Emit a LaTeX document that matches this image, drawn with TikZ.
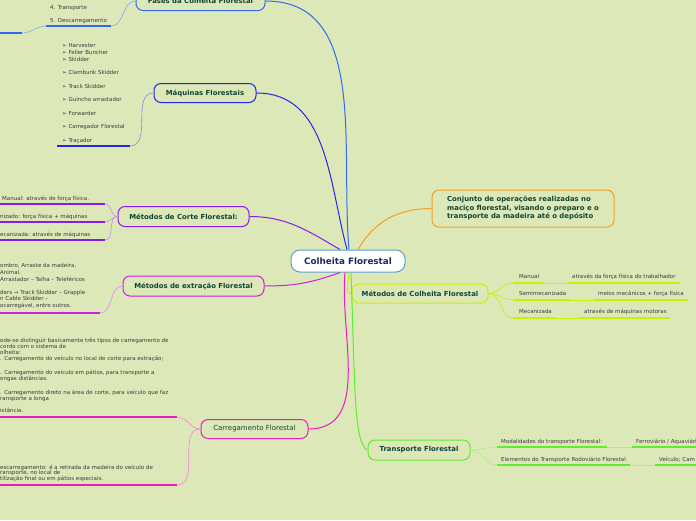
\documentclass[tikz,border=0pt]{standalone}
\usepackage{fontspec}
\setmainfont{DejaVu Sans}
\definecolor{bg}{HTML}{DDE8B9}
\definecolor{txtgreen}{HTML}{0F4535}
\definecolor{txtgray}{HTML}{3A3A3A}
\definecolor{cfases}{HTML}{2F6BF0}
\definecolor{cmaq}{HTML}{2626E0}
\definecolor{ccorte}{HTML}{8A1CE8}
\definecolor{cextr}{HTML}{D21EE0}
\definecolor{ccarr}{HTML}{E81CC0}
\definecolor{cconj}{HTML}{F5A020}
\definecolor{cmet}{HTML}{CCEE00}
\definecolor{ctransp}{HTML}{5EEE30}
\definecolor{croot}{HTML}{5AA0D0}
\definecolor{txtroot}{HTML}{1B2A5A}
\tikzset{
  topic/.style={draw, line width=1pt, rounded corners=7pt, fill=bg, text=txtgreen,
    font=\bfseries\fontsize{6.9}{8}\selectfont, inner sep=0pt},
  leaf/.style={anchor=base west, inner sep=0pt, text=txtgray, font=\fontsize{5.5}{6}\selectfont},
  uline/.style={line width=1.4pt},
  twig/.style={line width=0.6pt},
  branch/.style={line width=1pt},
}
\begin{document}
\begin{tikzpicture}[x=1pt,y=-1pt]
    \useasboundingbox[fill=bg] (0,0) rectangle (696,520);
    \clip (0,0) rectangle (696,520);

    % central topic
    \node[draw=croot, fill=white, line width=1pt, rounded corners=9pt, text=txtroot,
      font=\bfseries\fontsize{8.8}{10}\selectfont, minimum width=114pt, minimum height=22pt]
      (root) at (348,261) {Colheita Florestal};

    % main topics
    \node[topic, draw=cfases, minimum width=129pt, minimum height=19pt] (fases) at (200.5,1) {Fases da Colheita Florestal};
    \node[topic, draw=cmaq, minimum width=102pt, minimum height=19pt] (maq) at (205,93) {Máquinas Florestais};
    \node[topic, draw=ccorte, minimum width=131pt, minimum height=20pt] (corte) at (183.5,216.5) {Métodos de Corte Florestal:};
    \node[topic, draw=cextr, minimum width=141pt, minimum height=20pt] (extr) at (193.5,286) {Métodos de extração Florestal};
    \node[topic, draw=ccarr, font=\fontsize{7}{8}\selectfont, minimum width=107pt, minimum height=19pt] (carr) at (254.5,429) {Carregamento Florestal};
    \node[topic, draw=cconj, align=left, inner xsep=4pt, minimum width=182pt, minimum height=37pt,
      font=\bfseries\fontsize{6.9}{8.5}\selectfont] (conj) at (523,208.5)
      {Conjunto de operações realizadas no\\maciço florestal, visando o preparo e o\\transporte da madeira até o depósito};
    \node[topic, draw=cmet, minimum width=136pt, minimum height=19pt] (metc) at (420,293.5) {Métodos de Colheita Florestal};
    \node[topic, draw=ctransp, minimum width=102pt, minimum height=20pt] (transp) at (419,450) {Transporte Florestal};

    % branches to the centre
    \draw[branch, cfases] (fases.east) to[out=0, in=95] ([xshift=1pt]root.north);
    \draw[branch, cmaq] (maq.east) to[out=0, in=105] ([xshift=-1pt]root.north);
    \draw[branch, ccorte] (corte.east) to[out=0, in=150] ([xshift=-8pt]root.north);
    \draw[branch, cconj] (conj.west) to[out=180, in=60] ([xshift=10pt]root.north);
    \draw[branch, cextr] (extr.east) to[out=0, in=200] ([xshift=-8pt]root.south);
    \draw[branch, ccarr] (carr.east) to[out=0, in=265] ([xshift=-3pt]root.south);
    \draw[branch, cmet] ([xshift=1pt]root.south) to[out=275, in=180] (metc.west);
    \draw[branch, ctransp] ([xshift=3pt]root.south) .. controls +(4,110) and +(-14,-6) .. (transp.west);

    % Fases da Colheita
    \node[leaf] (f4) at (50,9) {4. Transporte};
    \node[leaf] (f5) at (50,22) {5. Descarregamento};
    \coordinate (f5a) at (46,26);
    \coordinate (f5b) at (111,26);
    \coordinate (f6) at (22,33);
    \draw[uline, cfases] (f5a) -- (f5b);
    \draw[uline, cfases] (0,33) -- (f6);
    \draw[twig, cfases!60] (f6) to[out=0, in=180] (f5a);
    \draw[twig, cfases!60] (f5b) to[out=0, in=180] (fases.west);

    % Maquinas Florestais
    \foreach \y/\t in {47/Harvester, 54/Feller Buncher, 61/Skidder, 74/Clambunk Skidder,
      88/Track Skidder, 101/Guincho arrastador, 115/Forwarder, 128/Carregador Florestal, 142/Traçador}
      \node[leaf] at (62,\y) {➢ \t};
    \coordinate (m9) at (130,146);
    \draw[uline, cmaq] (57,146) -- (m9);
    \draw[twig, cmaq!55] (m9) to[out=0, in=180] (maq.west);

    % Metodos de Corte
    \node[leaf] (c1) at (2,200) {Manual: através de força física.};
    \node[leaf] (c2) at (0,218) {nizado: força física + máquinas};
    \node[leaf] (c3) at (0,236) {ecanizada: através de máquinas};
    \foreach \y [count=\i] in {204,222,240} {
      \coordinate (cu\i) at (105,\y);
      \draw[uline, ccorte] (0,\y) -- (cu\i);
      \draw[twig, ccorte!50] (cu\i) to[out=0, in=180] (corte.west);
    }

    % Metodos de extracao
    \node[leaf] at (0,267) {ombro, Arraste da madeira,};
    \node[leaf] at (0,274) {Animal.};
    \node[leaf] at (0,281) {Arrastador – Talha – Teleféricos};
    \node[leaf] at (0,294) {ders → Track Skidder – Grapple};
    \node[leaf] at (0,300) {n Cable Skidder –};
    \node[leaf] at (0,307) {ocarregável, entre outros.};
    \coordinate (e1) at (100,313);
    \draw[uline, cextr] (0,313) -- (e1);
    \draw[twig, cextr!55] (e1) to[out=0, in=180] (extr.west);

    % Carregamento
    \node[leaf] at (0,342) {ode-se distinguir basicamente três tipos de carregamento de};
    \node[leaf] at (0,348) {cordo com o sistema de};
    \node[leaf] at (0,354) {olheita:};
    \node[leaf] at (0,360) {. Carregamento do veículo no local de corte para extração;};
    \node[leaf] at (0,374) {. Carregamento do veículo em pátios, para transporte a};
    \node[leaf] at (0,380) {ongas distâncias.};
    \node[leaf] at (0,394) {. Carregamento direto na área de corte, para veículo que faz};
    \node[leaf] at (0,400) {ransporte a longa};
    \node[leaf] at (0,412) {istância.};
    \node[leaf] at (0,469) {escarregamento: é a retirada da madeira do veículo de};
    \node[leaf] at (0,474) {ransporte, no local de};
    \node[leaf] at (0,480) {tilização final ou em pátios especiais.};
    \foreach \y [count=\i] in {417,485} {
      \coordinate (ru\i) at (177,\y);
      \draw[uline, ccarr] (0,\y) -- (ru\i);
      \draw[twig, ccarr!55] (ru\i) to[out=0, in=180] (carr.west);
    }

    % Metodos de Colheita
    \foreach \y/\a/\ae/\b/\ta/\tb [count=\i] in {
      283/543/568/680/Manual/através da força física do trabalhador,
      300/570/594/688/Semimecanizada/meios mecânicos + força física,
      318/555/580/670/Mecanizada/através de máquinas motoras} {
      \coordinate (ka\i) at (513,\y);
      \node[leaf] at (519,\y-5) {\ta};
      \node[leaf] at (\ae+4,\y-5) {\tb};
      \draw[uline, cmet] (ka\i) -- (\a,\y);
      \draw[twig, cmet] (\a,\y) -- (\ae,\y);
      \draw[uline, cmet] (\ae,\y) -- (\b,\y);
      \draw[twig, cmet] (metc.east) to[out=0, in=180] (ka\i);
    }

    % Transporte
    \foreach \y/\a/\ae/\ta/\tb [count=\i] in {
      447/607/632/Modalidades do transporte Florestal:/{Ferroviário / Aquaviário},
      465/630/655/Elementos do Transporte Rodoviário Florestal/Veículo; Cam} {
      \coordinate (ta\i) at (497,\y);
      \node[leaf] at (501,\y-4) {\ta};
      \node[leaf] at (\ae+4,\y-4) {\tb};
      \draw[uline, ctransp] (ta\i) -- (\a,\y);
      \draw[twig, ctransp!60] (\a,\y) -- (\ae,\y);
      \draw[uline, ctransp] (\ae,\y) -- (700,\y);
      \draw[twig, ctransp!60] (transp.east) to[out=0, in=180] (ta\i);
    }
\end{tikzpicture}
\end{document}
